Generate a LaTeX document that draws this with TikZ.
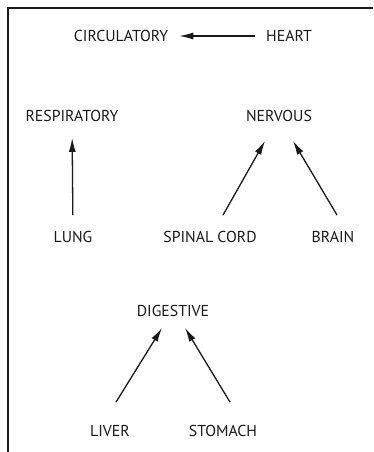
\documentclass[tikz,border=0pt]{standalone}
\usepackage{fontspec}
\usetikzlibrary{arrows.meta}
\newfontfamily\organfont{PT Sans}
\definecolor{inkK}{RGB}{25,25,25}

\begin{document}
\begin{tikzpicture}[x=1pt,y=-1pt,
  organ/.style={font=\organfont\fontsize{15.8}{18}\selectfont, inner sep=0pt, text=inkK},
  feeds/.style={-{Latex[length=14pt,width=7pt]}, line width=1.3pt, draw=inkK}]
  \useasboundingbox (0,0) rectangle (373,452);

  % frame (only top and left edges show)
  \draw[line width=1.2pt, inkK] (8,452) -- (8,8) -- (373,8);

  % systems
  \node[organ] (circ) at (121,36) {CIRCULATORY};
  \node[organ] (resp) at (72,116) {RESPIRATORY};
  \node[organ] (nerv) at (279,116) {NERVOUS};
  \node[organ] (dig)  at (173,311) {DIGESTIVE};

  % organs
  \node[organ] (heart)   at (289,36)  {HEART};
  \node[organ] (lung)    at (73,237)  {LUNG};
  \node[organ] (spinal)  at (210,237) {SPINAL CORD};
  \node[organ] (brain)   at (333,237) {BRAIN};
  \node[organ] (liver)   at (110,431) {LIVER};
  \node[organ] (stomach) at (223,431) {STOMACH};

  % organ -> system
  \draw[feeds, shorten <=11pt, shorten >=11pt] (heart.west) -- (circ.east);
  \draw[feeds, shorten <=16pt, shorten >=16pt] (lung.north) -- (resp.south);
  \draw[feeds] ([xshift=13pt,yshift=16pt]spinal.north) -- ([xshift=-14pt,yshift=-19pt]nerv.south);
  \draw[feeds] ([xshift=4pt,yshift=16pt]brain.north) -- ([xshift=14pt,yshift=-19pt]nerv.south);
  \draw[feeds] ([xshift=6pt,yshift=23pt]liver.north) -- ([xshift=-11pt,yshift=-11pt]dig.south);
  \draw[feeds] ([xshift=7pt,yshift=23pt]stomach.north) -- ([xshift=12pt,yshift=-11pt]dig.south);
\end{tikzpicture}
\end{document}
